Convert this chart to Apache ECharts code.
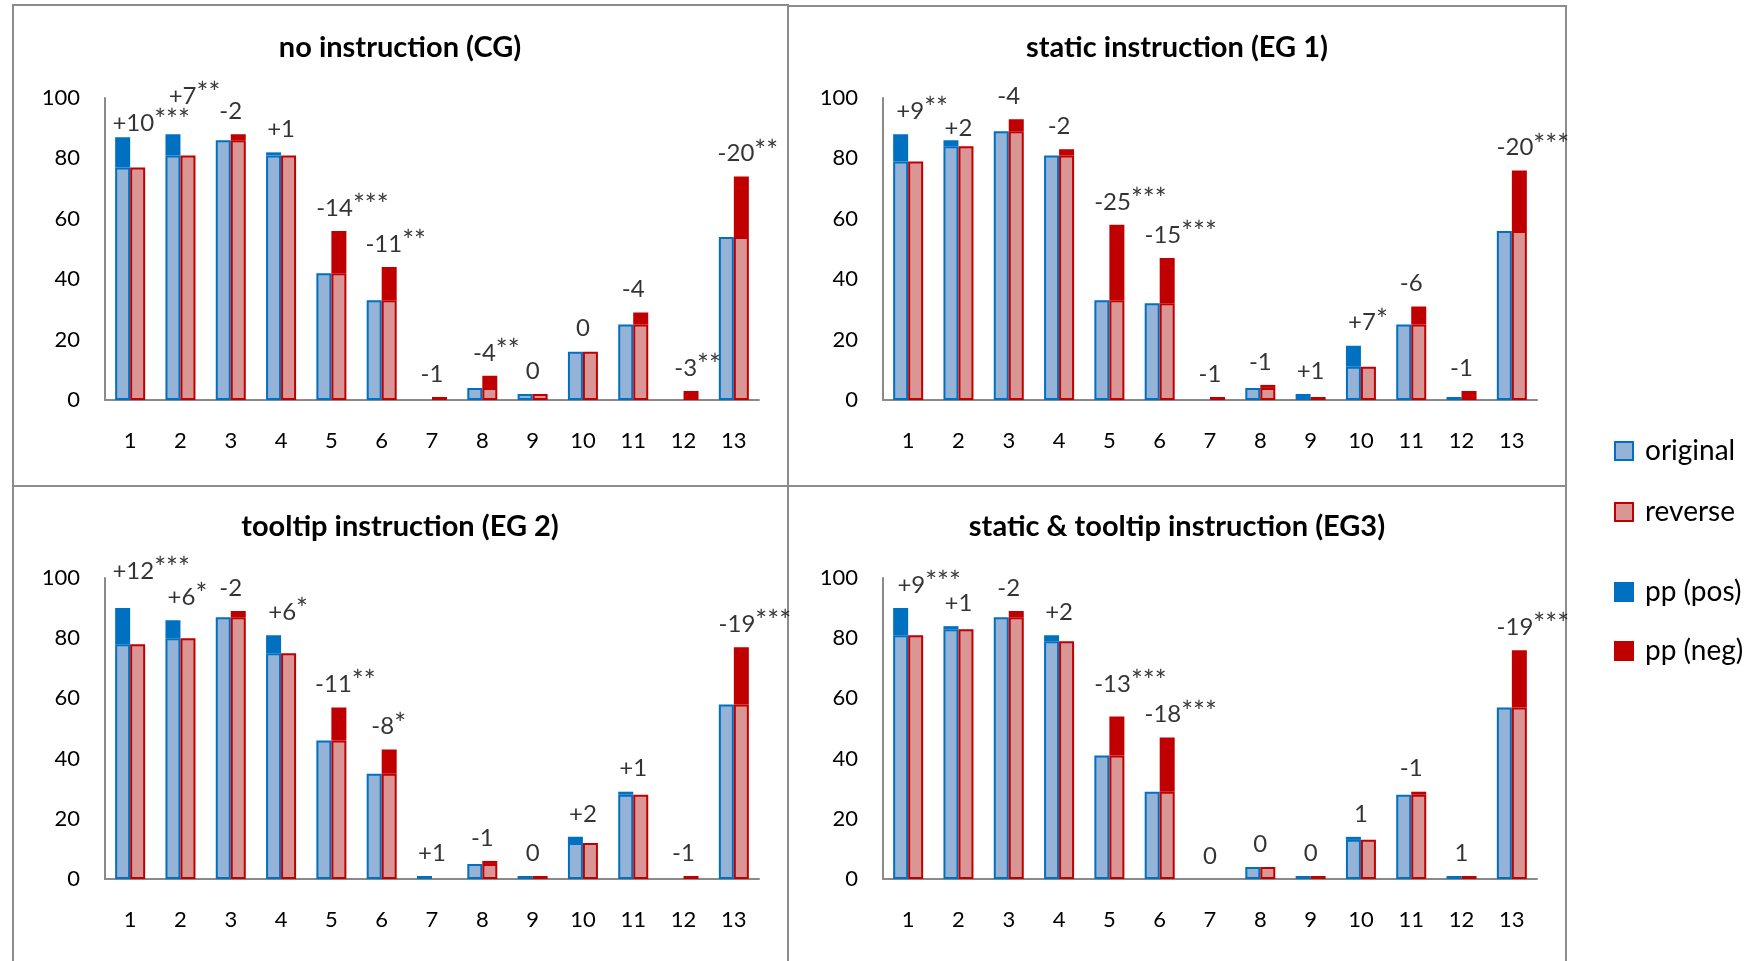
<!DOCTYPE html>
<html><head><meta charset="utf-8">
<script src="https://cdn.jsdelivr.net/npm/echarts@6/dist/echarts.min.js"></script>
<style>html,body{margin:0;padding:0;background:#fff}#c{width:1747px;height:961px}</style>
</head><body><div id="c"></div>
<script>
// ---------- data ----------
const categories = ['1','2','3','4','5','6','7','8','9','10','11','12','13'];
const yTicks = [0, 20, 40, 60, 80, 100];
const panelTitles = ['no instruction (CG)', 'static instruction (EG 1)', 'tooltip instruction (EG 2)', 'static & tooltip instruction (EG3)'];
const legendNames = ['original', 'reverse', 'pp (pos)', 'pp (neg)'];

const original_CG  = [87, 88, 86, 82, 42, 33, 0, 4, 2, 16, 25, 0, 54];
const reverse_CG   = [77, 81, 88, 81, 56, 44, 1, 8, 2, 16, 29, 3, 74];
const labels_CG    = ['+10***','+7**','-2','+1','-14***','-11**','-1','-4**','0','0','-4','-3**','-20**'];

const original_EG1 = [88, 86, 89, 81, 33, 32, 0, 4, 2, 18, 25, 1, 56];
const reverse_EG1  = [79, 84, 93, 83, 58, 47, 1, 5, 1, 11, 31, 3, 76];
const labels_EG1   = ['+9**','+2','-4','-2','-25***','-15***','-1','-1','+1','+7*','-6','-1','-20***'];

const original_EG2 = [90, 86, 87, 81, 46, 35, 1, 5, 1, 14, 29, 0, 58];
const reverse_EG2  = [78, 80, 89, 75, 57, 43, 0, 6, 1, 12, 28, 1, 77];
const labels_EG2   = ['+12***','+6*','-2','+6*','-11**','-8*','+1','-1','0','+2','+1','-1','-19***'];

const original_EG3 = [90, 84, 87, 81, 41, 29, 0, 4, 1, 14, 28, 1, 57];
const reverse_EG3  = [81, 83, 89, 79, 54, 47, 0, 4, 1, 13, 29, 1, 76];
const labels_EG3   = ['+9***','+1','-2','+2','-13***','-18***','0','0','0','1','-1','1','-19***'];

// ---------- layout / style ----------
const panels = [
  {o: original_CG,  r: reverse_CG,  l: labels_CG},
  {o: original_EG1, r: reverse_EG1, l: labels_EG1},
  {o: original_EG2, r: reverse_EG2, l: labels_EG2},
  {o: original_EG3, r: reverse_EG3, l: labels_EG3}
];
const grids = [
  {left: 105, top: 98,  width: 654, height: 302},
  {left: 883, top: 98,  width: 654, height: 302},
  {left: 105, top: 578, width: 654, height: 301},
  {left: 883, top: 578, width: 654, height: 301}
];
const titleCenters = [[400, 47], [1177, 47], [400, 526], [1177, 526]];
// manual label nudges (px, vertical) to mimic hand-placed labels
const labelNudge = [{0: 9, 1: -15}, {1: 11}, {0: -14}, {4: -9}];

const FONT = 'Lato';
const C_LB = '#95B3D7', C_B = '#0070C0', C_LR = '#DA9694', C_R = '#C00000';
const AX = '#8a8a8a';

const z = v => (v === 0 ? '-' : v);

const option = {
  animation: false,
  backgroundColor: '#fff',
  textStyle: {fontFamily: FONT},
  title: panelTitles.map((t, i) => ({
    text: t, textAlign: 'center',
    left: titleCenters[i][0] - 5, top: titleCenters[i][1] - 19,
    textStyle: {fontFamily: FONT, fontWeight: 'bold', fontSize: 29, color: '#000'}
  })),
  grid: grids,
  xAxis: grids.map((g, i) => ({
    type: 'category', gridIndex: i, data: categories,
    axisLine: {lineStyle: {color: AX, width: 2}},
    axisTick: {show: false},
    axisLabel: {fontSize: 22, color: '#000', margin: 30, fontFamily: FONT}
  })),
  yAxis: grids.map((g, i) => ({
    type: 'value', gridIndex: i, min: yTicks[0], max: yTicks[yTicks.length - 1], interval: yTicks[1] - yTicks[0],
    axisLine: {show: true, lineStyle: {color: AX, width: 2}},
    axisTick: {show: false},
    splitLine: {show: false},
    axisLabel: {fontSize: 22, color: '#000', margin: 25, fontFamily: FONT}
  })),
  legend: legendNames.map((n, k) => ({
    data: [n], orient: 'vertical', left: 1614, padding: 0,
    top: [451, 512, 592, 651][k] - 15,
    itemWidth: 18, itemHeight: 18, itemGap: 0, icon: 'rect',
    textStyle: {fontSize: 28, color: '#000', fontFamily: FONT, lineHeight: 30, padding: [0, 0, 0, 7]},
    selectedMode: false
  })),
  graphic: [
    {type: 'rect', shape: {x: 13, y: 5, width: 775, height: 481}, style: {fill: 'none', stroke: '#8c8c8c', lineWidth: 2}, silent: true},
    {type: 'rect', shape: {x: 788, y: 6, width: 778, height: 480}, style: {fill: 'none', stroke: '#8c8c8c', lineWidth: 2}, silent: true},
    {type: 'rect', shape: {x: 13, y: 486, width: 775, height: 520}, style: {fill: 'none', stroke: '#8c8c8c', lineWidth: 2}, silent: true},
    {type: 'rect', shape: {x: 788, y: 486, width: 778, height: 520}, style: {fill: 'none', stroke: '#8c8c8c', lineWidth: 2}, silent: true}
  ],
  series: []
};

panels.forEach((p, i) => {
  const base = p.o.map((v, k) => Math.min(v, p.r[k]));
  const pos = p.o.map((v, k) => Math.max(v - p.r[k], 0));
  const neg = p.o.map((v, k) => Math.max(p.r[k] - v, 0));
  const common = {type: 'bar', xAxisIndex: i, yAxisIndex: i, barWidth: 15, barGap: '0%', silent: true};
  option.series.push(
    Object.assign({}, common, {name: 'original', stack: 'o' + i, data: base.map(z),
      itemStyle: {color: C_LB, borderColor: C_B, borderWidth: 2}}),
    Object.assign({}, common, {name: 'pp (pos)', stack: 'o' + i, data: pos.map(z),
      itemStyle: {color: C_B, borderColor: C_B, borderWidth: 2}}),
    Object.assign({}, common, {name: 'reverse', stack: 'r' + i, data: base.map(z),
      itemStyle: {color: C_LR, borderColor: C_R, borderWidth: 2}}),
    Object.assign({}, common, {name: 'pp (neg)', stack: 'r' + i, data: neg.map(z),
      itemStyle: {color: C_R, borderColor: C_R, borderWidth: 2}}),
    {
      type: 'scatter', name: 'diff', xAxisIndex: i, yAxisIndex: i, symbolSize: 0, silent: true, z: 5,
      data: p.o.map((v, k) => {
        const txt = p.l[k];
        const num = txt.replace(/\*/g, '');
        const stars = txt.length - num.length;
        return {
          value: Math.max(v, p.r[k]),
          label: {
            formatter: stars ? '{n|' + num + '}{s|' + '*'.repeat(stars) + '}' : '{n|' + num + '}',
            offset: [stars * 7, labelNudge[i][k] || 0]
          }
        };
      }),
      label: {
        show: true, position: 'top', distance: 11, color: '#000', fontFamily: FONT,
        rich: {
          n: {fontSize: 24, lineHeight: 26, color: '#000', fontFamily: FONT, verticalAlign: 'bottom'},
          s: {fontSize: 28, lineHeight: 6, color: '#000', fontFamily: FONT, verticalAlign: 'bottom'}
        }
      }
    }
  );
});

const chart = echarts.init(document.getElementById('c'), null, {renderer: 'canvas'});
chart.setOption(option);
</script>
</body></html>
